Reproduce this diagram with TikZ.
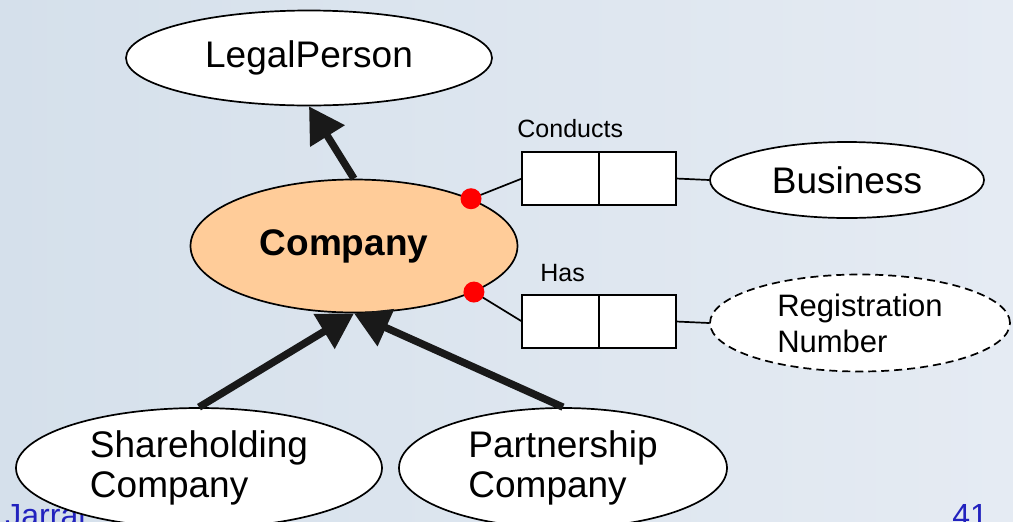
\documentclass[tikz,border=0pt]{standalone}
\usepackage{fontspec}
\setmainfont{Liberation Sans}
\usetikzlibrary{shapes.geometric,arrows.meta,positioning}
\definecolor{slideleft}{RGB}{213,224,235}
\definecolor{slideright}{RGB}{229,235,243}
\definecolor{companyfill}{RGB}{255,204,153}
\definecolor{footerblue}{RGB}{34,34,190}
\begin{document}
\begin{tikzpicture}[x=0.5pt,y=-0.5pt,
        entity/.style={ellipse,draw,fill=white,line width=0.85pt,inner sep=0pt,align=left,font=\fontsize{18.5}{20}\selectfont},
        rolebox/.style={rectangle,draw,fill=white,line width=0.85pt,minimum width=38.5pt,minimum height=26.5pt,inner sep=0pt,outer sep=0pt},
        rolelabel/.style={inner sep=0pt,anchor=base west,font=\fontsize{12.5}{14}\selectfont},
        mandatory/.style={circle,fill=red,minimum size=10.5pt,inner sep=0pt},
        subtype/.style={-{Triangle[length=17.5pt,width=19.5pt]},line width=3.7pt,draw=black!90},
        link/.style={line width=0.85pt},
        footer/.style={inner sep=0pt,anchor=base west,text=footerblue,font=\fontsize{16}{18}\selectfont}]
        \shade[left color=slideleft,right color=slideright] (0,0) rectangle (1013,521);
        \useasboundingbox (0,0) rectangle (1013,521);
        \node[footer] (author) at (5,526) {Jarrar};
        \node[footer] (pageno) at (952,526) {41};
        \node[entity,minimum width=183pt,minimum height=47.5pt] (legal) at (309,58) {LegalPerson};
        \node[entity,fill=companyfill,minimum width=163.5pt,minimum height=66.5pt,font=\fontsize{18.5}{20}\selectfont\bfseries] (company) at (354,246) {Company\hspace*{10pt}};
        \node[entity,minimum width=137pt,minimum height=38pt] (business) at (847,180) {Business};
        \node[entity,dash pattern=on 4pt off 2.5pt,minimum width=150pt,minimum height=48.5pt,font=\fontsize{15.5}{18}\selectfont] (regno) at (860,323) {Registration\\Number};
        \node[entity,minimum width=183pt,minimum height=60pt] (shareco) at (199,468) {Shareholding\\Company};
        \node[entity,minimum width=164pt,minimum height=60pt] (partnerco) at (563,468) {Partnership\\Company};
        \node[rolebox] (conductsA) at (560.5,178.5) {};
        \node[rolebox,right=0pt of conductsA] (conductsB) {};
        \node[rolebox] (hasA) at (560.5,321.5) {};
        \node[rolebox,right=0pt of hasA] (hasB) {};
        \node[rolelabel] (conductslbl) at (517,137) {Conducts};
        \node[rolelabel] (haslbl) at (540,281) {Has};
        \draw[link] (company.22) -- (conductsA.west);
        \draw[link] (company.-21) -- (hasA.west);
        \draw[link] (conductsB.east) -- (business.west);
        \draw[link] (hasB.east) -- (regno.west);
        \node[mandatory] (conductsdot) at (company.22) {};
        \node[mandatory] (hasdot) at (company.-21) {};
        \draw[subtype] (company.north) -- (legal.south);
        \draw[subtype] (shareco.north) -- (company.south);
        \draw[subtype] (partnerco.north) -- (company.south);
    \end{tikzpicture}
\end{document}
